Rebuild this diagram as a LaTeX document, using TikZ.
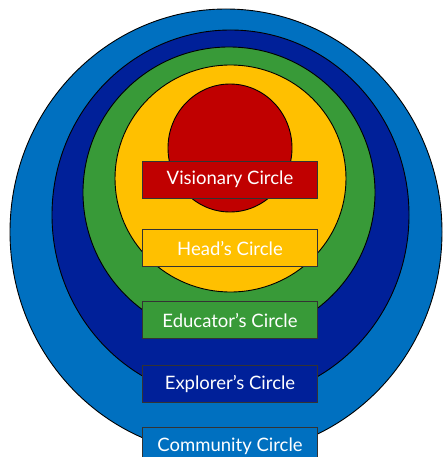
\documentclass[tikz,border=0pt]{standalone}
\usepackage{fontspec}
\setmainfont{Lato}
\usetikzlibrary{positioning}
\definecolor{community}{RGB}{0,112,192}
\definecolor{explorer}{RGB}{0,32,153}
\definecolor{educator}{RGB}{56,154,56}
\definecolor{heads}{RGB}{255,192,0}
\definecolor{visionary}{RGB}{192,0,0}

\begin{document}
\begin{tikzpicture}[
    , x = 1pt
    , y = -1pt
    , ring/.style = {
      , draw = black
      , line width = 0.9pt
    }
    , tag/.style = {
      , draw = black!80
      , line width = 0.9pt
      , minimum width = 175pt
      , minimum height = 37pt
      , text = white
      , font = \fontsize{18.5}{19}\selectfont
    }
  ]
    \clip (0,0) rectangle (443,457);
    % circles, outermost first
    \draw [ring, fill = community] (226,232) ellipse [x radius = 216pt, y radius = 223pt];
    \draw [ring, fill = explorer] (230.5,215) ellipse [x radius = 178.5pt, y radius = 185pt];
    \draw [ring, fill = educator] (229,192.5) ellipse [x radius = 146pt, y radius = 145.5pt];
    \draw [ring, fill = heads] (230.5,178.5) ellipse [x radius = 115.5pt, y radius = 113.5pt];
    \draw [ring, fill = visionary] (230,148) ellipse [x radius = 62pt, y radius = 64pt];
    % labels
    \node (vis) [tag, fill = visionary] at (230,179.5) {Visionary Circle};
    \node (head) [tag, fill = heads, below = 31pt of vis] {Head’s Circle};
    \node (edu) [tag, fill = educator, below = 34pt of head] {Educator’s Circle};
    \node (expl) [tag, fill = explorer, below = 26pt of edu] {Explorer’s Circle};
    \node (comm) [tag, fill = community, below = 24pt of expl] {Community Circle};
  \end{tikzpicture}
\end{document}
